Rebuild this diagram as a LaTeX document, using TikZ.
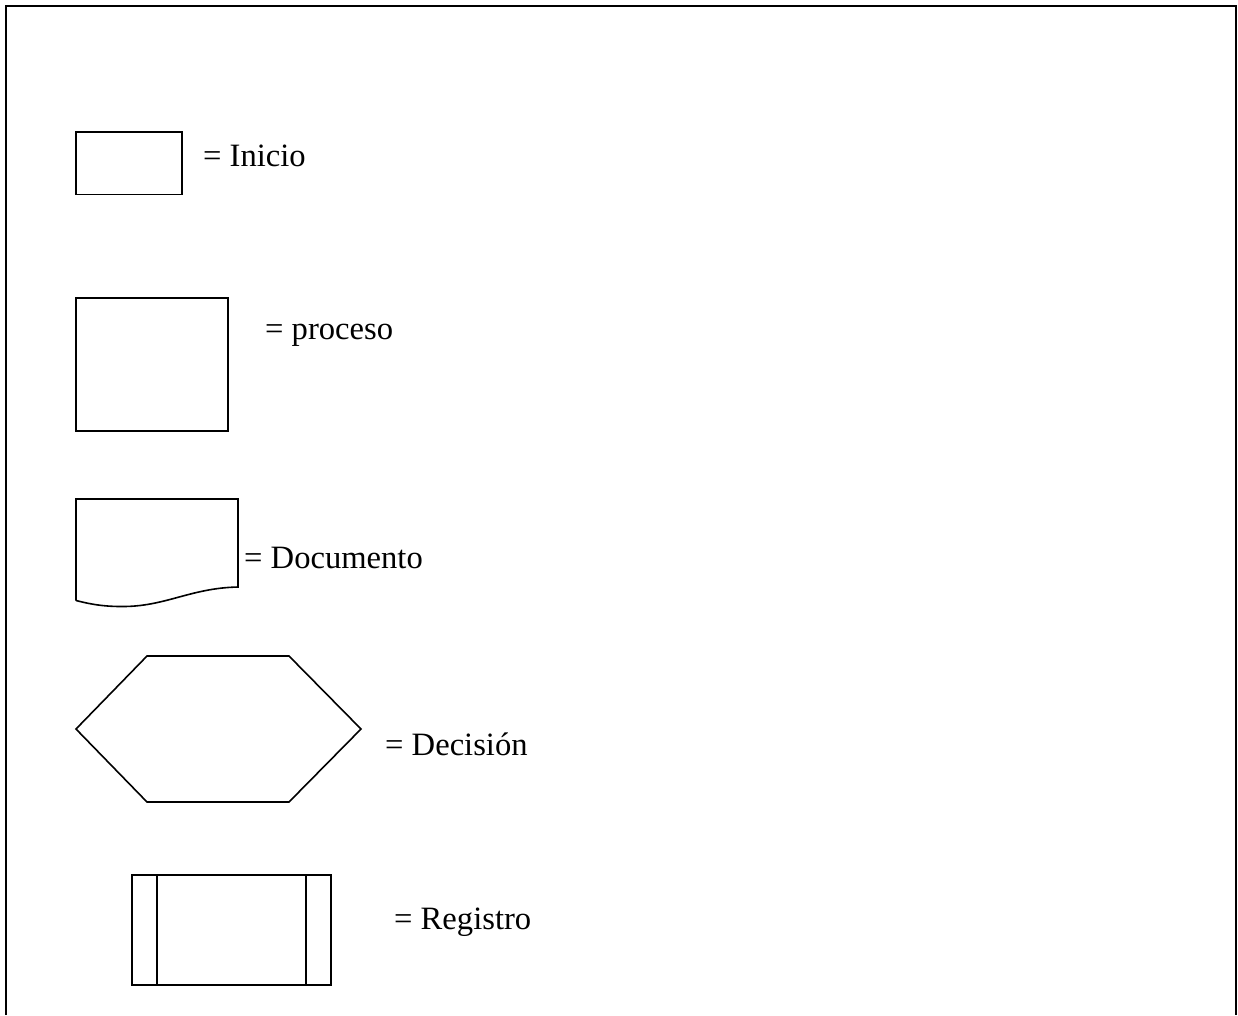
\documentclass[tikz,border=0pt]{standalone}
\usepackage{fontspec}
\setmainfont{Liberation Serif}
\begin{document}
\begin{tikzpicture}[x=1pt,y=-1pt,
  frame/.style={line width=2.4pt},
  symbol/.style={draw,line width=1.6pt,line join=miter},
  legendtext/.style={anchor=base west,inner sep=0pt,font=\fontsize{32.6}{40}\selectfont}]
\useasboundingbox (0,0) rectangle (1238,1015);

% open page frame
\draw[frame] (6,1015) -- (6,6) -- (1236,6) -- (1236,1015);

% start
\draw[symbol] (76,132) rectangle (182,194.5);
\node[legendtext] (inicio) at (203,166) {= Inicio};

% process
\draw[symbol] (76,298) rectangle (228,431);
\node[legendtext] (proceso) at (265,339) {= proceso};

% document
\draw[symbol] (76,600.5) -- (76,499) -- (238,499) -- (238,587)
  .. controls (190,588) and (165,607) .. (121,606.5)
  .. controls (100,606.5) and (86,603) .. (76,600.5);
\node[legendtext] (documento) at (244,568) {= Documento};

% decision
\draw[symbol] (76,729) -- (147,656) -- (289,656) -- (361,729)
  -- (289,802) -- (147,802) -- cycle;
\node[legendtext] (decision) at (385,755) {= Decisión};

% record
\draw[symbol] (132,875) rectangle (331,985);
\draw[symbol] (156.7,875) -- (156.7,985);
\draw[symbol] (305.7,875) -- (305.7,985);
\node[legendtext] (registro) at (394,929) {= Registro};
\end{tikzpicture}
\end{document}
